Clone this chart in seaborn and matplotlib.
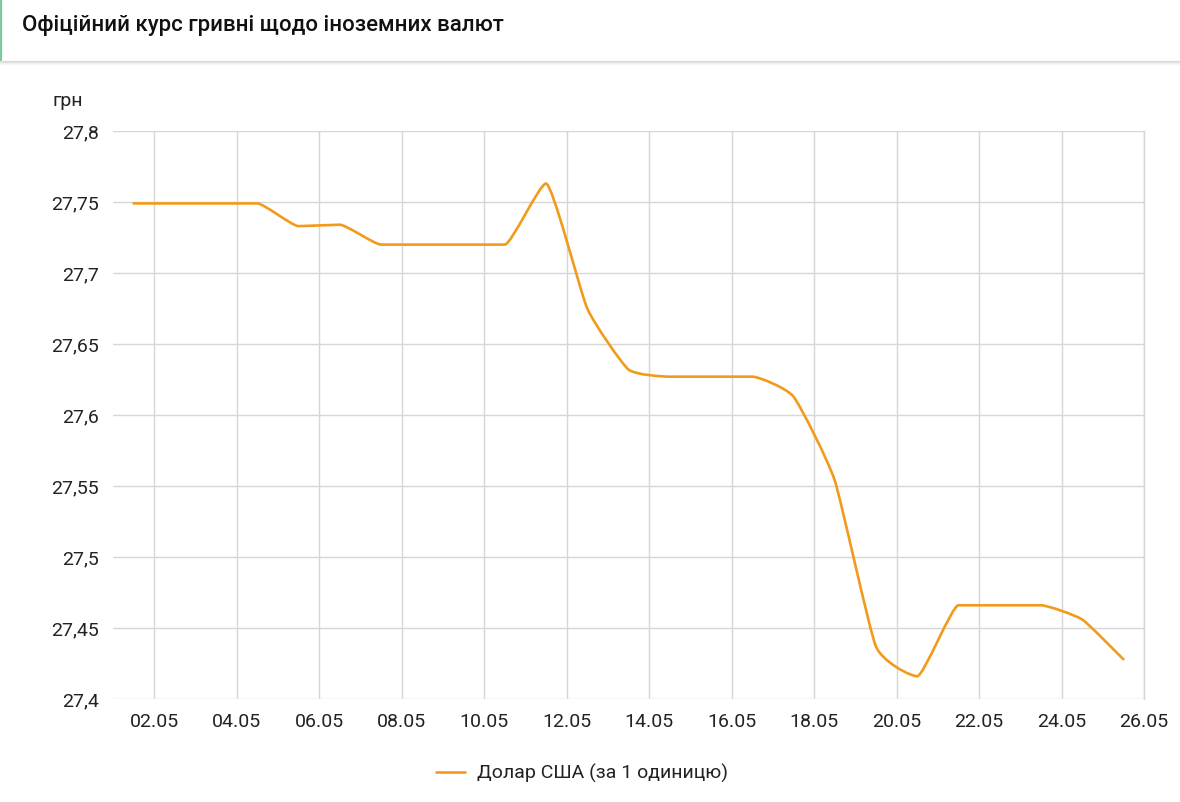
import numpy as np
import pandas as pd
import matplotlib
matplotlib.use("Agg")
import matplotlib.pyplot as plt
from matplotlib.path import Path
from matplotlib.patches import PathPatch
from matplotlib.lines import Line2D
import seaborn as sns

# ---- data ----
days = list(range(1, 26))
usd_rate = [27.749, 27.749, 27.749, 27.749, 27.733, 27.734, 27.720, 27.720, 27.720, 27.720,
            27.763, 27.675, 27.632, 27.627, 27.627, 27.627, 27.613, 27.554, 27.437, 27.416,
            27.466, 27.466, 27.466, 27.456, 27.428]
x_tick_days = [2, 4, 6, 8, 10, 12, 14, 16, 18, 20, 22, 24, 26]
x_tick_labels = ["02.05", "04.05", "06.05", "08.05", "10.05", "12.05", "14.05",
                 "16.05", "18.05", "20.05", "22.05", "24.05", "26.05"]
y_ticks = [27.4, 27.45, 27.5, 27.55, 27.6, 27.65, 27.7, 27.75, 27.8]
y_tick_labels = ["27,4", "27,45", "27,5", "27,55", "27,6", "27,65", "27,7", "27,75", "27,8"]
title = "Офіційний курс гривні щодо іноземних валют"
y_unit = "грн"
series_name = "Долар США (за 1 одиницю)"

LINE_COLOR = "#F29A1B"
TXT = "#222222"
FS = 14

sns.set_theme(style="white")
plt.rcParams["font.family"] = ["Roboto", "DejaVu Sans"]

df = pd.DataFrame({"x": [d + 0.5 for d in days], "rate": usd_rate})

fig = plt.figure(figsize=(11.8, 8.02), dpi=100)
fig.patch.set_facecolor("white")
ax = fig.add_axes([113 / 1180, 1 - 699 / 802, (1144 - 113) / 1180, (699 - 131) / 802])

# seaborn draws the series (kept invisible; the rounded curve below renders it)
sns.lineplot(data=df, x="x", y="rate", ax=ax, color=LINE_COLOR, linewidth=0, legend=False)

# lightly rounded curve through the same points (short bezier handles)
xs = df["x"].to_numpy(float)
ys = df["rate"].to_numpy(float)
n = len(xs)
h = np.diff(xs)
s = np.diff(ys) / h
m = np.zeros(n)
for i in range(1, n - 1):
    s0, s1 = s[i - 1], s[i]
    if s0 * s1 > 0:
        m[i] = (s0 + s1) / 2
m[0] = s[0]
m[-1] = s[-1]
K = 0.16
verts = [(xs[0], ys[0])]
codes = [Path.MOVETO]
for i in range(n - 1):
    dx = h[i] * K
    verts += [(xs[i] + dx, ys[i] + m[i] * dx), (xs[i + 1] - dx, ys[i + 1] - m[i + 1] * dx),
              (xs[i + 1], ys[i + 1])]
    codes += [Path.CURVE4] * 3
ax.add_patch(PathPatch(Path(verts, codes), facecolor="none", edgecolor=LINE_COLOR,
                       linewidth=1.9, capstyle="round", joinstyle="round", zorder=3))

ax.set_xlim(1, 26)
ax.set_ylim(27.4, 27.8)
ax.set_xticks(x_tick_days)
ax.set_xticklabels(x_tick_labels)
ax.set_yticks(y_ticks)
ax.set_yticklabels(y_tick_labels)
ax.set_xlabel("")
ax.set_ylabel("")
ax.grid(True, color="#d6d6d6", linewidth=1.0)
ax.set_axisbelow(True)
for sp in ["top", "left", "bottom"]:
    ax.spines[sp].set_visible(False)
ax.spines["right"].set_color("#d6d6d6")
ax.spines["right"].set_linewidth(1.0)
ax.tick_params(axis="both", length=0, labelsize=FS, colors=TXT)
ax.tick_params(axis="y", pad=10)
ax.tick_params(axis="x", pad=10)

# header
fig.text(22 / 1180, 1 - 25 / 802, title, fontsize=16, fontweight="medium",
         color="#111111", ha="left", va="center")
fig.add_artist(Line2D([1 / 1180, 1 / 1180], [1 - 60 / 802, 1.0], color="#7cc99a",
                      linewidth=1.6, transform=fig.transFigure))
for k, a in enumerate([0.35, 0.22, 0.12, 0.06]):
    yy = 1 - (61 + k) / 802
    fig.add_artist(Line2D([0, 1], [yy, yy], color="#9a9a9a", alpha=a, linewidth=0.9,
                          transform=fig.transFigure))

fig.text(52 / 1180, 1 - 101 / 802, y_unit, fontsize=FS, color=TXT,
         ha="left", va="center")

handle = Line2D([], [], color=LINE_COLOR, linewidth=1.9)
fig.legend([handle], [series_name], loc="center", bbox_to_anchor=(582 / 1180, 1 - 773 / 802),
           frameon=False, fontsize=FS, handlelength=1.5, handletextpad=0.6,
           labelcolor=TXT)

fig.savefig("out.png", dpi=100, facecolor="white")
